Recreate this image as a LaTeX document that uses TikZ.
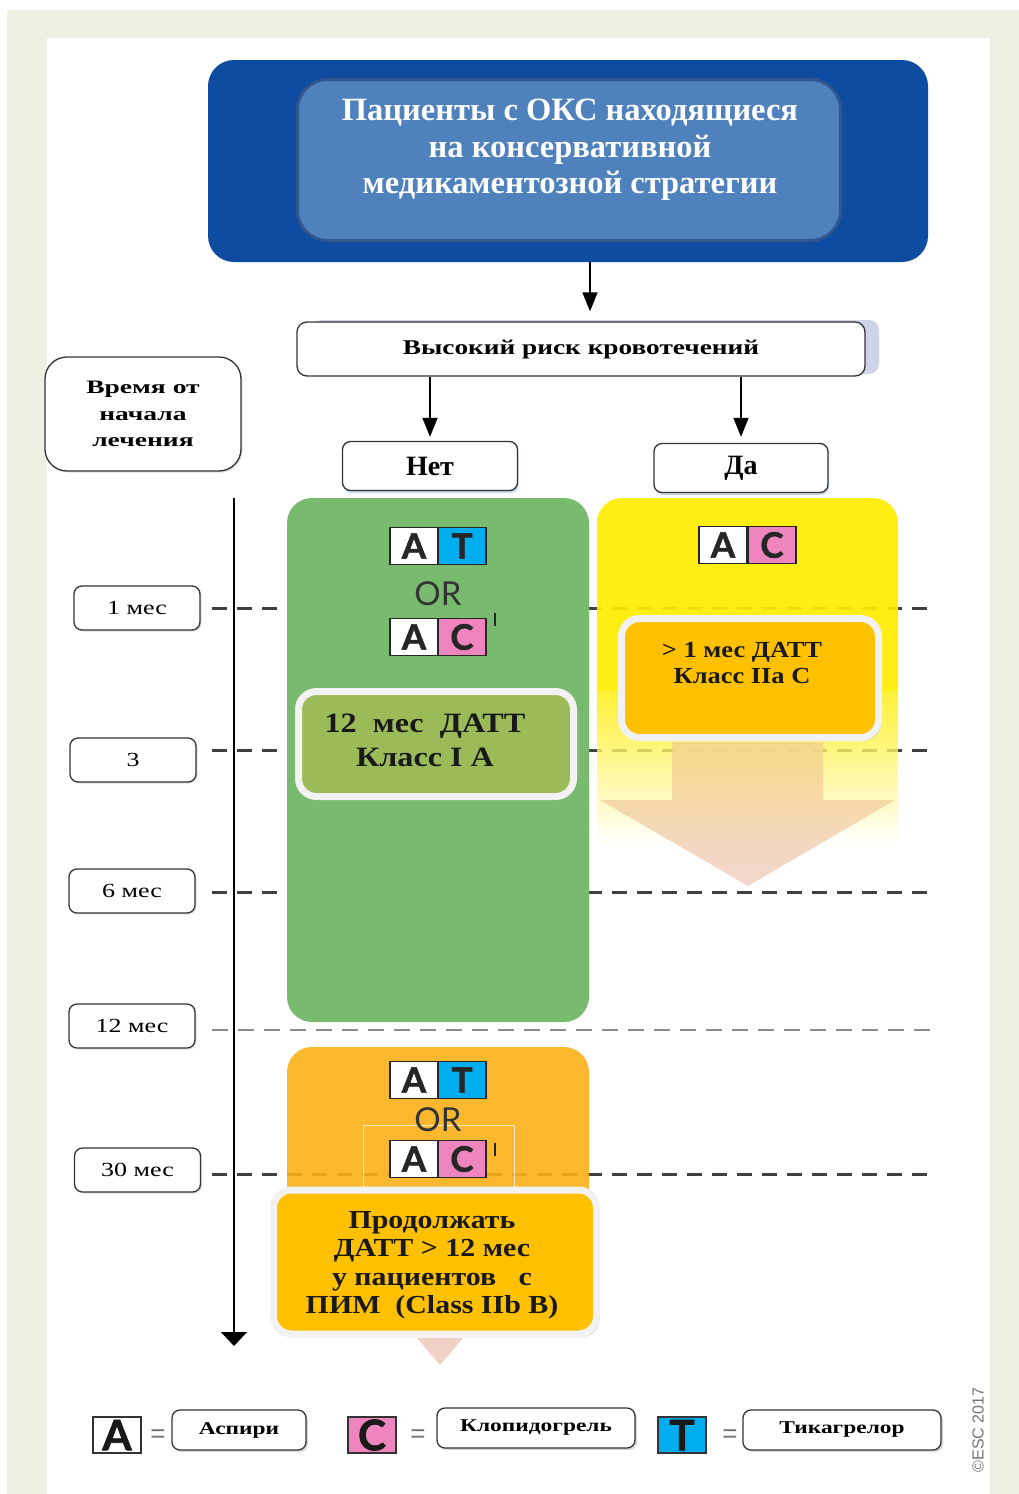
\documentclass[tikz,border=0pt]{standalone}
\usepackage{fontspec}
\setmainfont{Liberation Serif}
\newfontfamily\wideserif[FakeStretch=1.3]{Liberation Serif}
\newfontfamily\spreadserif[FakeStretch=1.45]{Liberation Serif}
\newfontfamily\midserif[FakeStretch=1.15]{Liberation Serif}
\newfontfamily\tilefont[BoldFeatures={FakeBold=1.6}]{Lato}
\newfontfamily\notefont{Liberation Sans}
\usetikzlibrary{arrows.meta,shadows,calc}

\definecolor{frame}{RGB}{239,240,228}
\definecolor{navy}{RGB}{14,76,161}
\definecolor{steel}{RGB}{79,129,189}
\definecolor{steeledge}{RGB}{50,86,140}
\definecolor{riskshadow}{RGB}{160,168,210}
\definecolor{leaf}{RGB}{120,186,110}
\definecolor{olive}{RGB}{155,187,89}
\definecolor{lemon}{RGB}{255,237,0}
\definecolor{amber}{RGB}{255,192,0}
\definecolor{tangerine}{RGB}{251,177,24}
\definecolor{peachtop}{RGB}{245,214,140}
\definecolor{peachbot}{RGB}{241,208,198}
\definecolor{pinktile}{RGB}{239,133,191}
\definecolor{cyantile}{RGB}{0,174,239}
\definecolor{rim}{RGB}{242,242,242}

\begin{document}
\begin{tikzpicture}[x=1pt,y=-1pt,
  stamp/.style={draw=black!80, line width=1.3pt, fill=white, rounded corners=8pt, inner sep=0pt},
  timelbl/.style={stamp, minimum width=126pt, minimum height=44pt,
    font=\wideserif\fontsize{20}{20}\selectfont,
    drop shadow={shadow xshift=1.5pt, shadow yshift=-1.5pt, fill=black!25}},
  cell/.style={draw=black!85, line width=1.3pt, minimum width=48pt, minimum height=37pt,
    inner sep=0pt, text=black!85, font=\tilefont\bfseries\fontsize{35}{35}\selectfont},
  ortext/.style={text=black!80, font=\tilefont\fontsize{33}{33}\selectfont},
  plate/.style={draw=rim, line width=7pt, rounded corners=18pt, inner sep=0pt,
    drop shadow={shadow xshift=3pt, shadow yshift=-3pt, fill=black!35}},
  arr/.style={line width=1.6pt, -{Triangle[length=19pt,width=15pt]}},
  gridline/.style={draw=black!75, line width=3pt, dash pattern=on 15pt off 10pt},
  gridthin/.style={draw=black!45, line width=1.5pt, dash pattern=on 16pt off 10pt},
  legbox/.style={stamp, minimum height=40pt,
    font=\wideserif\bfseries\fontsize{18}{18}\selectfont,
    drop shadow={shadow xshift=2pt, shadow yshift=-2pt, fill=black!30}},
  legtile/.style={draw=black!80, line width=1.5pt, minimum width=48pt, minimum height=36pt,
    inner sep=0pt, text=black!90, font=\tilefont\bfseries\fontsize{42}{42}\selectfont},
  eqsign/.style={text=black!55, font=\notefont\fontsize{26}{26}\selectfont}
]
\useasboundingbox (0,0) rectangle (1019,1494);

% page frame
\fill[frame] (7,10) rectangle (1019,1494);
\fill[white] (47,38) rectangle (990,1494);

% header
\node[fill=navy, rounded corners=26pt, minimum width=720pt, minimum height=202pt] (outer) at (568,161) {};
\node[fill=steel, draw=steeledge, line width=3pt, rounded corners=30pt,
      minimum width=543pt, minimum height=161pt] (title) at (569,160) {};
\node[text=white, align=center, font=\bfseries\fontsize{32.5}{36.5}\selectfont] (titletext) at (570,150)
  {Пациенты с ОКС находящиеся\\на консервативной\\медикаментозной стратегии};

% bleeding risk decision
\node[stamp, rounded corners=10pt, minimum width=568pt, minimum height=54pt,
      drop shadow={shadow xshift=14pt, shadow yshift=2pt, fill=riskshadow},
      font=\wideserif\bfseries\fontsize{21}{21}\selectfont] (risk) at (581,349) {Высокий риск кровотечений};
\node[stamp, minimum width=175pt, minimum height=49pt,
      drop shadow={shadow xshift=1pt, shadow yshift=-2.5pt, fill=steel!60},
      font=\bfseries\fontsize{28}{28}\selectfont] (no) at (430,466) {Нет};
\node[stamp, minimum width=174pt, minimum height=49pt,
      drop shadow={shadow xshift=1pt, shadow yshift=-2.5pt, fill=steel!60},
      font=\bfseries\fontsize{28}{28}\selectfont] (yes) at (741,468) {Да};

\coordinate (ax) at (590,0);
\draw[arr, shorten >=10pt] (outer.south -| ax) -- (risk.north -| ax);
\draw[arr, shorten >=4pt] (risk.south -| no.north) -- (no.north);
\draw[arr, shorten >=6pt] (risk.south -| yes.north) -- (yes.north);

% time axis caption
\node[stamp, rounded corners=22pt, minimum width=196pt, minimum height=114pt, align=center,
      drop shadow={shadow xshift=1.5pt, shadow yshift=-1.5pt, fill=black!25},
      font=\spreadserif\bfseries\fontsize{19}{26.5}\selectfont] (since) at (143,414) {Время от\\начала\\лечения};

% time grid
\foreach \yy in {608,750,892,1174} \draw[gridline] (212,\yy) -- (930,\yy);
\draw[gridthin] (212,1030) -- (930,1030);

\node[timelbl] (t1) at (137,608) {1 мес};
\node[timelbl] (t3) at (133,760) {3};
\node[timelbl] (t6) at (132,891) {6 мес};
\node[timelbl] (t12) at (132,1026) {12 мес};
\node[timelbl] (t30) at (137.5,1170) {30 мес};

\coordinate (axtop) at (234,498);
\coordinate (axbot) at (234,1346);
\draw[line width=2pt, -{Triangle[length=14pt,width=26pt]}] (axtop) -- (axbot);

% no bleeding risk: green column
\node[fill=leaf, rounded corners=25pt, minimum width=302pt, minimum height=524pt] (green) at (438,760) {};
\node[cell, fill=white] (gA1) at (414,546) {A};
\node[cell, fill=cyantile] (gT1) at (462,546) {T};
\node[ortext] (gor) at (438,594) {OR};
\node[cell, fill=white] (gA2) at (414,637) {A};
\node[cell, fill=pinktile] (gC2) at (462,637) {C};
\draw[line width=2.8pt, black!85] (495,613) -- (495,626);
\node[plate, fill=olive, minimum width=275pt, minimum height=105pt] (gplate) at (436,744) {};
\node[align=center, text=black!90, font=\midserif\bfseries\fontsize{28}{34}\selectfont] (gtext) at (425,740)
  {12\ \ мес\ \ ДАТТ\\Класс I A};

% high bleeding risk: yellow column
\fill[lemon, fill opacity=0.92] (597,690) {[rounded corners=25pt] -- (597,498) -- (898,498)} -- (898,690) -- cycle;
\shade[top color=lemon, bottom color=white, opacity=0.8] (597,689) rectangle (898,845);
\shade[top color=peachtop, bottom color=peachbot, opacity=0.85]
  (672,742) -- (823,742) -- (823,800) -- (895,800) -- (748,886) -- (600,800) -- (672,800) -- cycle;
\node[cell, fill=white] (yA) at (723,545) {A};
\node[cell, fill=pinktile] (yC) at (772,545) {C};
\node[plate, fill=amber, minimum width=257pt, minimum height=119pt] (yplate) at (750,678) {};
\node[align=center, text=black!90, font=\midserif\bfseries\fontsize{23}{26}\selectfont] (ytext) at (742,663)
  {> 1 мес ДАТТ\\Класс IIa C};

% beyond 12 months: orange block
\node[fill=tangerine, fill opacity=0.9, rounded corners=25pt, minimum width=302pt, minimum height=212pt] (later) at (438,1153) {};
\draw[white!75!tangerine, line width=0.8pt] (363,1200) -- (363,1125) -- (514,1125) -- (514,1200);
\node[cell, fill=white] (lA1) at (414,1080) {A};
\node[cell, fill=cyantile] (lT1) at (462,1080) {T};
\node[ortext] (lor) at (438,1120) {OR};
\node[cell, fill=white] (lA2) at (414,1159) {A};
\node[cell, fill=pinktile] (lC2) at (462,1159) {C};
\draw[line width=2.8pt, black!85] (495,1143) -- (495,1156);
\fill[peachbot] (417,1338) -- (463,1338) -- (440,1365) -- cycle;
\node[plate, fill=amber, minimum width=323pt, minimum height=144pt] (lplate) at (435,1262) {};
\node[align=center, text=black!90, font=\midserif\bfseries\fontsize{26}{28.5}\selectfont] (ltext) at (432,1265)
  {Продолжать\\ДАТТ > 12 мес\\у пациентов\ \ \ с\\ПИМ\ \ (Class IIb B)};

% legend
\node[legtile, fill=white] (kA) at (117,1435) {A};
\node[eqsign] (eA) at (158,1436) {=};
\node[legbox, minimum width=134pt] (kAname) at (239,1430) {Аспири};
\node[legtile, fill=pinktile] (kC) at (372,1435) {C};
\node[eqsign] (eC) at (418,1436) {=};
\node[legbox, minimum width=198pt] (kCname) at (536,1428) {Клопидогрель};
\node[legtile, fill=cyantile] (kT) at (682,1435) {T};
\node[eqsign] (eT) at (730,1436) {=};
\node[legbox, minimum width=198pt] (kTname) at (842,1430) {Тикагрелор};

\node[rotate=90, text=black!55, font=\notefont\fontsize{16}{16}\selectfont] (esc) at (978,1430) {©ESC 2017};
\end{tikzpicture}
\end{document}
